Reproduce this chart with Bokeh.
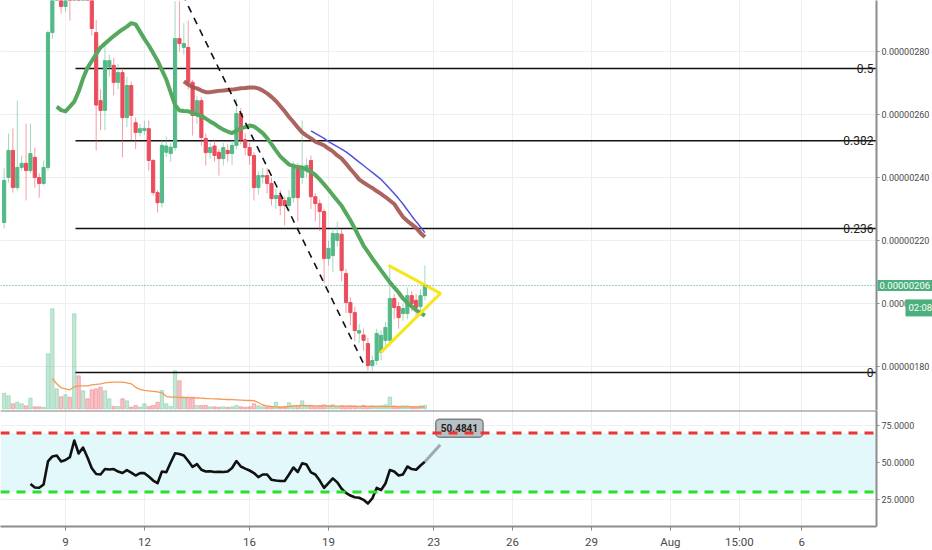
import numpy as np
from bokeh.core.properties import value
from bokeh.embed import file_html
from bokeh.layouts import column
from bokeh.models import (BoxAnnotation, ColumnDataSource, FixedTicker, Label,
                          NumeralTickFormatter, Range1d, Span)
from bokeh.plotting import figure
from bokeh.resources import INLINE

# 4h candles, price in satoshi (1e-8), x = day of July 2018 (Aug 1 = 32)
first_day = 6 + 16 / 24

opens = [225.7, 240.0, 248.6, 236.8, 243.2, 244.5, 242.2, 246.4, 240.0, 238.1,
         243.2, 286.0, 300.0, 312.0, 294.3, 304.0, 300.0, 330.0, 318.0, 325.0,
         312.0, 286.0, 264.4, 261.3, 275.1, 275.6, 270.2, 273.3, 259.0, 269.2,
         257.4, 254.3, 254.9, 255.5, 245.4, 235.2, 232.0, 248.0, 247.6, 249.5,
         284.1, 281.3, 281.3, 270.2, 259.7, 264.4, 252.4, 247.9, 250.0, 248.0,
         246.0, 248.6, 247.6, 250.2, 260.3, 252.0, 249.5, 247.0, 236.8, 240.2,
         240.6, 238.1, 233.3, 234.3, 232.7, 231.1, 233.6, 243.2, 240.0, 242.2,
         245.4, 233.9, 231.7, 229.2, 214.3, 215.2, 220.0, 222.0, 209.5, 200.3,
         197.1, 190.6, 190.0, 187.3, 180.3, 181.9, 184.5, 188.3, 188.3, 201.6,
         199.0, 196.8, 196.8, 202.5, 201.0, 199.0, 202.5]
closes = [239.1, 248.6, 236.8, 243.2, 244.5, 242.2, 247.6, 240.0, 238.1, 243.2,
          286.0, 300.0, 312.0, 294.3, 302.0, 300.0, 330.0, 318.0, 325.0, 312.0,
          287.3, 263.0, 261.3, 277.1, 277.1, 270.2, 273.3, 259.0, 269.2, 259.7,
          254.3, 255.5, 255.6, 245.4, 235.2, 232.0, 250.2, 250.0, 249.6, 284.1,
          282.5, 282.5, 270.2, 259.7, 264.4, 252.7, 247.9, 249.5, 247.0, 246.0,
          249.5, 247.6, 250.2, 260.3, 252.0, 249.5, 247.0, 236.8, 240.6, 240.6,
          238.1, 233.3, 234.3, 231.1, 231.1, 233.6, 243.2, 233.6, 243.2, 243.8,
          233.9, 231.7, 229.2, 214.3, 217.5, 222.2, 222.2, 210.5, 200.3, 197.1,
          191.4, 191.4, 188.3, 180.3, 181.9, 190.5, 189.9, 192.4, 201.6, 198.7,
          195.5, 198.4, 202.5, 200.0, 198.7, 202.5, 205.7]
highs = [242.9, 253.9, 255.6, 264.4, 247.0, 257.1, 257.1, 249.5, 241.3, 245.4,
         286.7, 306.0, 318.0, 315.0, 308.0, 310.0, 345.0, 340.0, 372.0, 332.0,
         315.0, 290.0, 268.0, 282.0, 279.0, 278.0, 276.0, 275.0, 272.0, 270.5,
         259.0, 257.0, 258.0, 258.1, 246.0, 236.0, 251.8, 253.0, 251.0, 296.0,
         296.0, 289.0, 289.8, 271.0, 266.0, 265.5, 254.0, 251.0, 252.0, 249.0,
         251.0, 250.5, 252.0, 265.0, 262.0, 254.0, 251.0, 248.0, 242.0, 243.0,
         243.0, 240.0, 236.5, 236.0, 234.0, 236.0, 245.0, 244.5, 258.1, 246.0,
         247.0, 235.0, 233.0, 230.0, 220.0, 224.0, 226.0, 223.5, 211.0, 202.0,
         199.0, 193.5, 192.0, 189.0, 183.5, 192.0, 191.5, 194.0, 212.1, 203.0,
         200.5, 200.0, 205.0, 204.0, 203.0, 204.5, 212.1]
lows = [223.8, 238.4, 235.2, 235.9, 242.2, 232.7, 241.3, 236.8, 233.6, 237.5,
        242.2, 284.0, 297.0, 292.0, 292.5, 289.8, 298.0, 310.0, 314.0, 305.0,
        285.0, 248.6, 255.0, 255.0, 272.0, 266.0, 268.0, 246.4, 256.0, 251.8,
        249.0, 253.0, 253.5, 242.2, 234.3, 228.9, 230.5, 246.5, 245.0, 248.5,
        280.0, 279.0, 268.0, 253.3, 257.0, 250.0, 243.8, 246.0, 245.0, 240.6,
        243.8, 245.0, 244.0, 249.0, 250.5, 247.0, 244.0, 232.7, 234.5, 238.0,
        235.0, 231.1, 230.0, 228.0, 224.8, 229.0, 232.0, 226.0, 238.0, 240.0,
        230.0, 226.0, 223.0, 206.4, 212.0, 210.0, 218.0, 207.0, 197.0, 193.0,
        188.0, 187.5, 185.0, 178.7, 178.5, 180.5, 182.0, 186.5, 187.0, 195.0,
        192.0, 194.5, 195.0, 197.5, 196.0, 197.0, 201.0]
volume = [15.6, 13, 5, 6.6, 5, 3, 10.6, 2, 2, 1.5,
          55, 100, 20, 12, 14, 11.6, 95, 33, 18, 10,
          19, 20, 21.6, 18, 10, 2.3, 2.3, 10, 8, 1.7,
          3.3, 1.7, 5, 2.3, 3.3, 6.6, 18.3, 5, 2.3, 38,
          28, 11.7, 11.7, 11.7, 3.3, 3.3, 3.3, 2, 2, 1.5,
          2, 1.5, 2, 3.3, 2, 1.5, 2, 5, 3, 2,
          1.5, 2, 6.6, 2, 2.5, 6, 3, 3, 8, 3,
          2.5, 2, 3, 4, 2.5, 4, 2, 3, 2.5, 3,
          3, 2, 3.5, 2.5, 3, 2.5, 3, 4, 11.7, 3,
          2.5, 3, 3, 2, 2, 3, 3.5]

# moving averages (start index into the candle list, then values)
green_start = 12
green_ma = [262.5, 261.4, 261.0, 262.5, 264.1, 267.3, 271.4, 274.8, 277.0, 279.2,
            281.3, 282.5, 283.7, 284.9, 286.0, 287.0, 287.9, 289.0, 288.6, 286.3,
            284.0, 281.9, 279.5, 277.1, 274.1, 271.1, 267.0, 263.0, 261.3, 261.1,
            261.0, 260.5, 260.0, 259.5, 258.7, 257.8, 257.0, 256.0, 255.2, 254.6,
            254.1, 254.8, 255.6, 256.0, 256.5, 256.2, 255.2, 254.1, 252.5, 250.6,
            248.6, 246.7, 245.4, 244.1, 243.7, 243.3, 243.2, 242.5, 241.8, 240.8,
            239.4, 237.8, 236.2, 234.4, 232.7, 231.0, 228.7, 226.4, 223.8, 221.1,
            218.4, 216.4, 214.3, 212.4, 210.5, 208.6, 206.7, 205.1, 203.5, 201.6,
            200.2, 199.1, 197.9, 197.0, 196.2]
brown_start = 41
brown_ma = [270.5, 269.5, 268.7, 268.3, 267.6, 267.1, 267.1, 267.3, 267.5, 267.6,
            267.8, 267.9, 268.1, 268.3, 268.4, 268.6, 268.6, 268.3, 267.6, 266.7,
            265.6, 264.3, 262.7, 261.0, 259.2, 257.6, 255.9, 254.3, 253.3, 252.4,
            251.4, 250.8, 250.2, 249.2, 248.3, 247.0, 246.0, 244.4, 242.7, 241.1,
            239.4, 238.4, 237.5, 236.7, 235.7, 234.8, 233.8, 232.7, 231.6, 229.5,
            227.5, 226.2, 225.1, 224.0, 222.4, 221.1]
blue_start = 70
blue_ma = [254.8, 254.0, 253.2, 252.4, 251.4, 250.6, 249.8, 249.0, 248.1, 247.1,
           246.0, 244.9, 243.8, 242.7, 241.6, 240.5, 239.4, 237.9, 236.4, 234.9,
           233.3, 231.6, 229.7, 227.8, 226.0, 224.3, 222.5]
vol_ma_start = 11
vol_ma = [30.3, 25, 21, 20, 19, 22, 23, 23, 23, 24,
          24.5, 25, 26, 26.5, 26.6, 26.6, 26.6, 26, 25, 21.5,
          19.5, 18.5, 18, 17.5, 17, 16, 12.5, 11.6, 11.6, 11.5,
          11.3, 11.1, 11, 10.8, 10.6, 10.3, 10.1, 10, 9.8, 9.5,
          9.3, 9.1, 8.9, 8.7, 8.5, 8.3, 8.1, 6.3, 3.8, 2.8,
          2.3, 2, 1.7, 1.6, 2.3, 2.8, 3.1, 3.3,
          3.2, 3.1, 3.0, 3.0, 2.9, 2.8, 2.8, 2.7, 2.7, 2.6, 2.6, 2.5, 2.5, 2.4,
          2.4, 2.3, 2.3, 2.3, 2.2, 2.2, 2.1, 2.1, 2.0, 2.0, 1.9, 1.9, 1.8, 1.8]
rsi_start = 6
rsi = [35.5, 33.1, 32.9, 35.1, 50.7, 54.1, 54.7, 50.7, 51.7, 53.6,
       64.9, 56.1, 60.1, 53.6, 46.1, 42.2, 41.9, 45.6, 45.3, 45.6,
       43.9, 42.9, 44.9, 43.2, 41.2, 42.8, 42.8, 40.5, 37.8, 36.0,
       43.9, 43.4, 50.0, 56.2, 55.8, 54.7, 51.0, 47.0, 48.9, 45.1,
       43.9, 44.1, 43.6, 43.8, 43.6, 43.9, 46.3, 51.0, 47.3, 45.9,
       44.6, 42.9, 40.1, 41.9, 41.9, 38.3, 37.8, 37.5, 37.5, 41.9,
       46.6, 43.6, 49.5, 48.6, 43.3, 41.9, 37.8, 32.8, 36.1, 39.3,
       36.6, 32.3, 29.4, 27.7, 26.5, 26.2, 24.8, 22.3, 25.7, 32.8,
       31.4, 35.8, 44.9, 43.9, 41.2, 41.9, 47.3, 45.6, 45.1, 48.0,
       50.5]
rsi_last_text = "50.4841"

# drawings
fib_levels = [274.6, 251.7, 223.8, 178.1]
fib_labels = ["0.5", "0.382", "0.236", "0"]
fib_from = 9.38
trend_x = [13.45, 20.33]
trend_y = [298.1, 181.0]
tri_x = [21.28, 23.26, 20.98]
tri_y = [212.1, 203.2, 184.4]

price_ticks = [180, 200, 220, 240, 260, 280]
x_ticks = [9, 12, 16, 19, 23, 26, 29, 32, 34.625, 37, 40]
x_labels = ["9", "12", "16", "19", "23", "26", "29", "Aug", "15:00", "6", "9"]

UP, DOWN = "#53b987", "#eb4d5c"
BADGE = "#4caf7d"
XR0, XR1 = 6.528, 39.84
AXIS_FONT = "Roboto"
FRAME_W, BORDER_R = 876, 56

t = first_day + np.arange(len(opens)) / 6
o, c = np.array(opens), np.array(closes)
colors = [UP if cc >= oo else DOWN for oo, cc in zip(opens, closes)]
src = ColumnDataSource(dict(t=t, top=np.maximum(o, c), bottom=np.minimum(o, c),
                            high=highs, low=lows, color=colors, vol=volume))

p = figure(frame_width=FRAME_W, frame_height=410, x_range=Range1d(XR0, XR1),
           y_range=Range1d(166.03, 296.19), y_axis_location="right",
           toolbar_location=None, output_backend="svg",
           min_border_left=0, min_border_top=0, min_border_bottom=0,
           min_border_right=BORDER_R, outline_line_color=None)
p.xaxis.visible = False
p.extra_y_ranges = {"vol": Range1d(-1.7, 408.3)}
p.xgrid.ticker = FixedTicker(ticks=x_ticks)
p.grid.grid_line_color = "#eceef1"

p.yaxis.ticker = FixedTicker(ticks=price_ticks)
p.yaxis.major_label_overrides = {v: "0.00000%d" % v for v in price_ticks}

# volume + its average
p.vbar(x="t", top="vol", bottom=0, width=0.13, source=src, color="color",
       alpha=0.35, y_range_name="vol")
p.line(t[vol_ma_start:], vol_ma, color="#f59a55", line_width=1.3, y_range_name="vol")

# fib levels
p.segment(x0=fib_from, y0=fib_levels, x1=XR1, y1=fib_levels, color="#111111", line_width=1.5)
p.text(x=[XR1] * 4, y=fib_levels, text=fib_labels, x_offset=-3, text_align="right",
       text_baseline="middle", text_font_size="12px", text_color="#222222",
       text_font=value("Roboto"))

# candles
p.segment(x0="t", y0="high", x1="t", y1="low", color="color", alpha=0.55,
          line_width=1, source=src)
p.vbar(x="t", top="top", bottom="bottom", width=0.12, fill_color="color",
       line_color="color", source=src)

# moving averages
p.line(t[green_start:], green_ma, color="#57a85f", line_width=4, line_join="round")
p.line(t[brown_start:], brown_ma, color="#a3534f", line_width=4, line_join="round", alpha=0.9)
p.line(t[blue_start:], blue_ma, color="#5252e0", line_width=1.5)

# hand drawings
p.line(trend_x, trend_y, color="#111111", line_width=1.6, line_dash="7 6")
p.line(tri_x, tri_y, color="#f5e61e", line_width=3)

# last price line and its badges on the price scale
last = closes[-1]
p.add_layout(Span(location=last, dimension="width", line_color="#3fa37f",
                  line_dash="1 2", line_width=1))
p.add_layout(Label(x=XR1, y=last, x_offset=1, text="0.00000%d" % round(last),
                   text_baseline="middle", text_font_size="9.5px", text_font=AXIS_FONT,
                   text_color="white", background_fill_color=BADGE, padding=2), "right")
p.add_layout(Label(x=XR1, y=198.6, x_offset=29, text="02:08",
                   text_baseline="middle", text_font_size="9.5px", text_font=AXIS_FONT,
                   text_color="white", background_fill_color=BADGE, padding=3), "right")

# RSI pane
r = figure(frame_width=FRAME_W, frame_height=116, x_range=p.x_range,
           y_range=Range1d(6.76, 85.14), y_axis_location="right",
           toolbar_location=None, output_backend="svg",
           min_border_left=0, min_border_top=0, min_border_bottom=24,
           min_border_right=BORDER_R, outline_line_color=None)
r.add_layout(BoxAnnotation(bottom=30, top=70, fill_color="#e2f8fb", fill_alpha=1,
                           line_color=None, level="underlay"))
r.line(t[rsi_start:], rsi, color="#111111", line_width=2.6, line_join="round")
r.segment(x0=[t[-1]], y0=[rsi[-1]], x1=[23.25], y1=[62], color="#a0a9ad", line_width=3)
r.add_layout(Label(x=23.08, y=73.2, text=rsi_last_text, text_baseline="middle",
                   text_font_size="10px", text_font_style="bold", text_font=AXIS_FONT,
                   text_color="#222222", background_fill_color="#b9c1c5",
                   border_line_color="#78838a", border_line_width=1.5,
                   padding=5, border_radius=4))
r.add_layout(Span(location=70, dimension="width", line_color="#f03232",
                  line_dash="9 7", line_width=3))
r.add_layout(Span(location=30, dimension="width", line_color="#2be02b",
                  line_dash="9 7", line_width=3))
r.add_layout(Span(location=85.14, dimension="width", line_color="#808080", line_width=2))
r.grid.grid_line_color = "#eceef1"
r.xgrid.ticker = FixedTicker(ticks=x_ticks)
r.xaxis.ticker = FixedTicker(ticks=x_ticks)
r.xaxis.major_label_overrides = dict(zip(x_ticks, x_labels))
r.yaxis.ticker = FixedTicker(ticks=[25, 50, 75])
r.ygrid.ticker = FixedTicker(ticks=[25, 50, 75])
r.yaxis.formatter = NumeralTickFormatter(format="0.0000")

for ax in (p.yaxis[0], r.yaxis[0], r.xaxis[0]):
    ax.axis_line_color = "#8c8c8c"
    ax.axis_line_width = 2
    ax.major_tick_line_color = "#8c8c8c"
    ax.major_tick_out = 3
    ax.major_tick_in = 0
    ax.minor_tick_line_color = None
    ax.major_label_text_font = AXIS_FONT
    ax.major_label_text_font_size = "9px"
    ax.major_label_text_color = "#4a4a4a"
    ax.major_label_standoff = 2
r.xaxis.major_tick_out = 4
r.xaxis.major_label_standoff = 4
r.xaxis.major_label_text_font_size = "11.5px"

open("out.html", "w").write(file_html(column(p, r), INLINE))
